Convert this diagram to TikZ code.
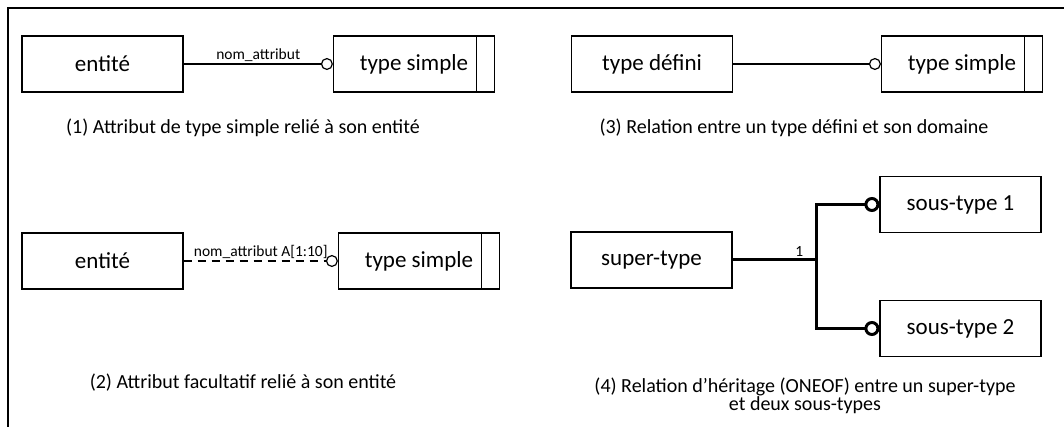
\documentclass[tikz,border=0pt]{standalone}
\usepackage{fontspec}
\setmainfont{Carlito}
\usetikzlibrary{arrows.meta}

\begin{document}
\begin{tikzpicture}[x=1pt, y=-1pt,
	box/.style={draw, line width=1.2pt, minimum width=161pt, minimum height=56pt, inner sep=0pt, font=\fontsize{23}{27}\selectfont},
	simplebox/.style={box, path picture={\draw[line width=1.2pt] ([xshift=-18pt]path picture bounding box.north east) -- ([xshift=-18pt]path picture bounding box.south east);}},
	link/.style={line width=1.2pt, -{Circle[fill=white, length=12pt]}},
	heavy/.style={line width=3pt, -{Circle[fill=white, length=15pt]}},
	caption/.style={font=\fontsize{20}{18}\selectfont, align=center},
	lbl/.style={font=\fontsize{15.5}{18}\selectfont, inner sep=2pt}]

	\useasboundingbox (0, 0) rectangle (1064, 427);
	\draw[line width=1.5pt] (8, 427) -- (8, 8) -- (1064, 8);

	% (1)
	\node[box] (ent1) at (102.5, 64) {entité};
	\node[simplebox] (simple1) at (414, 64) {type simple};
	\draw[link] (ent1.east) -- node[lbl, above] {nom\_attribut} (simple1.west);
	\node[caption] (cap1) at (243, 128) {(1) Attribut de type simple relié à son entité};

	% (2)
	\node[box] (ent2) at (102.5, 261) {entité};
	\node[simplebox] (simple2) at (419, 261) {type simple};
	\draw[link, dash pattern=on 8pt off 6pt] (ent2.east) -- node[lbl, above] {nom\_attribut A[1:10]} (simple2.west);
	\node[caption] (cap2) at (243, 383) {(2) Attribut facultatif relié à son entité};

	% (3)
	\node[box] (defini) at (652, 64) {type défini};
	\node[simplebox] (simple3) at (962, 64) {type simple};
	\draw[link] (defini.east) -- (simple3.west);
	\node[caption] (cap3) at (794, 128) {(3) Relation entre un type défini et son domaine};

	% (4)
	\node[box] (super) at (651.5, 260) {super-type};
	\node[box] (sous1) at (960.5, 204.5) {sous-type 1};
	\node[box] (sous2) at (960.5, 328.5) {sous-type 2};
	\coordinate (fork) at (816, 260);
	\draw[line width=3pt] (super.east) -- node[lbl, above, pos=0.8] {1} (fork);
	\draw[heavy] (fork) |- (sous1.west);
	\draw[heavy] (fork) |- (sous2.west);
	\node[caption] (cap4) at (805, 396) {(4) Relation d’héritage (ONEOF) entre un super-type\\et deux sous-types};

\end{tikzpicture}
\end{document}
